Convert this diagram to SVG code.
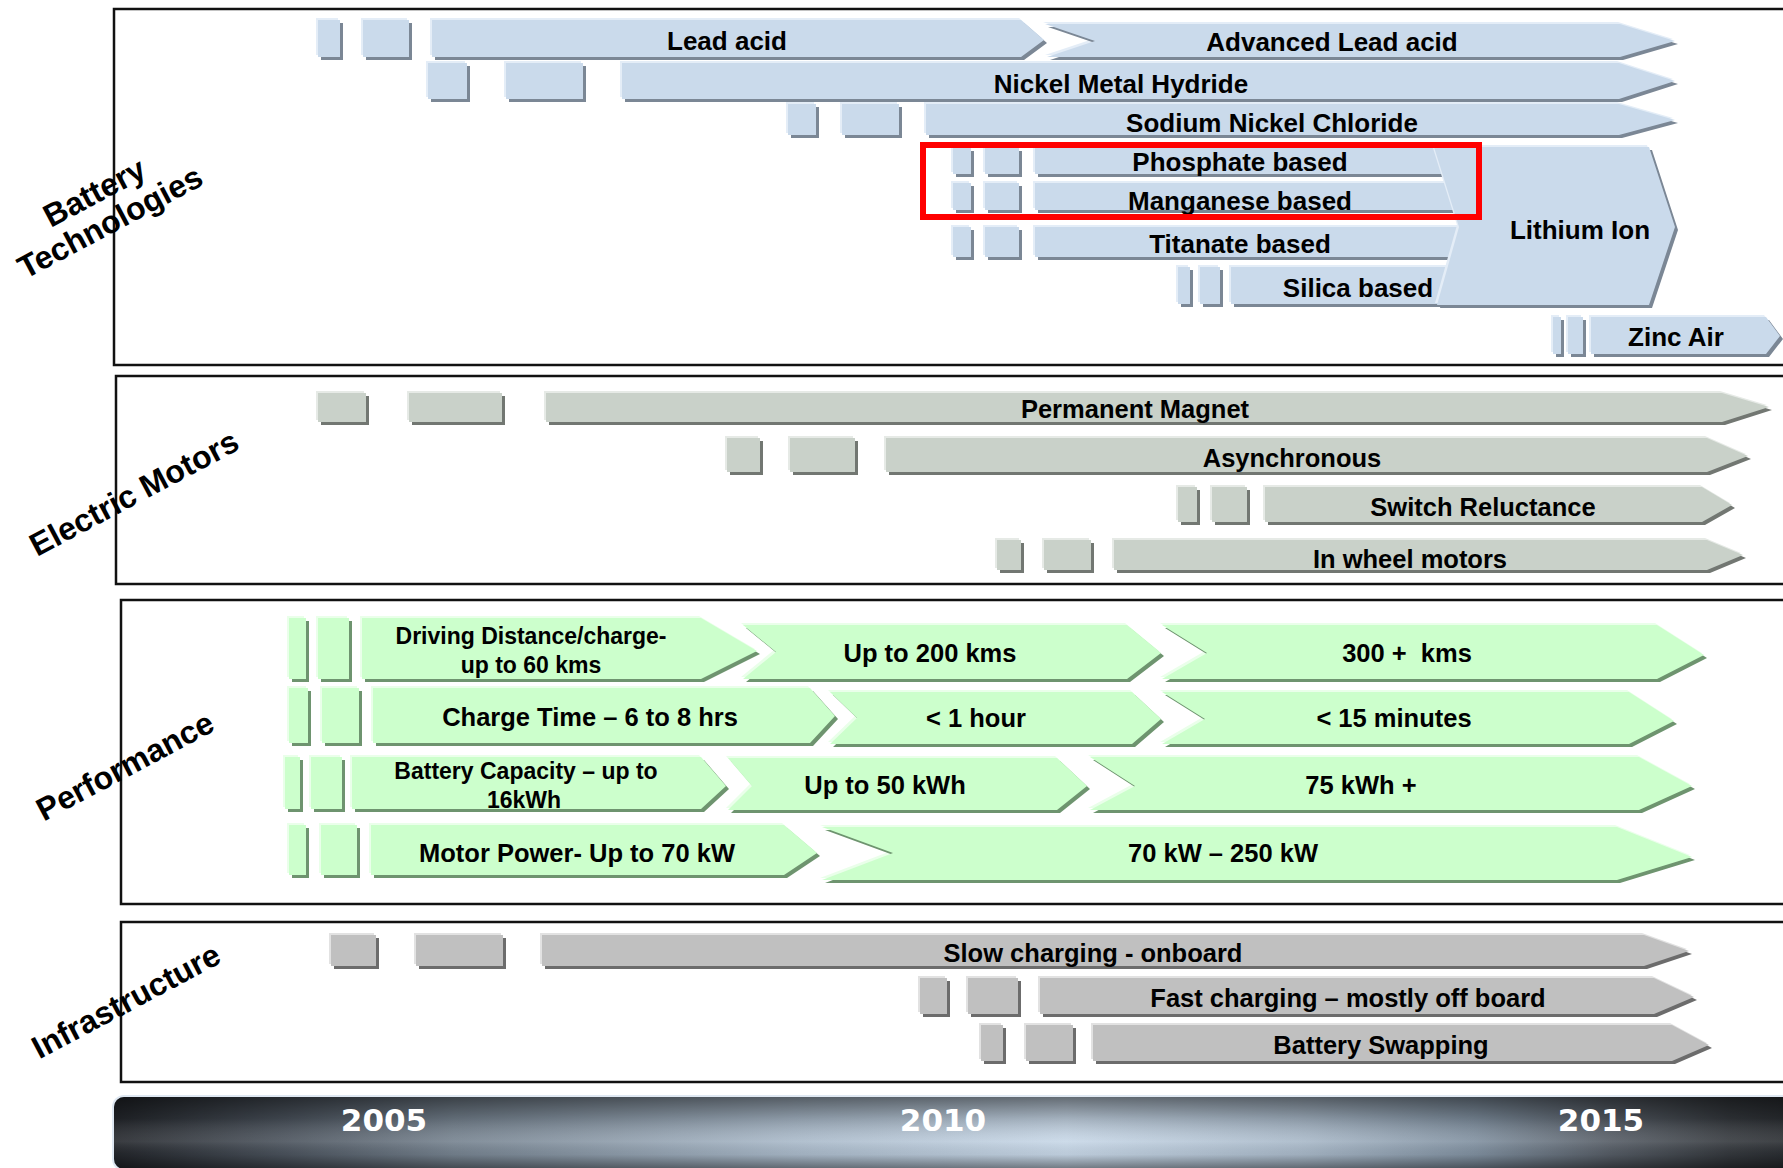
<svg xmlns="http://www.w3.org/2000/svg" width="1783" height="1168" viewBox="0 0 1783 1168">
<style>
.frame{fill:none;stroke:#111;stroke-width:2.5}
.t{font-family:"Liberation Sans",Arial,sans-serif;font-weight:bold;fill:#000;text-anchor:middle}
.f26{font-size:26px}.f25{font-size:25.5px}.f23{font-size:23px}
.sec{font-family:"Liberation Sans",Arial,sans-serif;font-weight:bold;font-size:32px;fill:#000;text-anchor:middle}
.yr{font-family:"DejaVu Sans",Verdana,sans-serif;font-weight:bold;font-size:31px;fill:#fff;text-anchor:middle}
.bH{fill:#e4edf7}.bS{fill:#7b8795}.bM{fill:#cadaeb}
.mH{fill:#e6eae6}.mS{fill:#727772}.mM{fill:#c9d1c9}
.pH{fill:#eaffea}.pS{fill:#6e946f}.pM{fill:#ccffcc}
.iH{fill:#e2e2e2}.iS{fill:#6c6c6c}.iM{fill:#c0c0c0}
</style>
<defs>
<linearGradient id="hg" x1="114" y1="0" x2="1814" y2="0" gradientUnits="userSpaceOnUse">
<stop offset="0" stop-color="#23262b"/><stop offset="0.1" stop-color="#4a525c"/><stop offset="0.2" stop-color="#75828f"/>
<stop offset="0.4" stop-color="#a9b9c9"/><stop offset="0.56" stop-color="#c7d7e7"/><stop offset="0.7" stop-color="#a8b8c8"/>
<stop offset="0.8" stop-color="#8090a0"/><stop offset="0.88" stop-color="#555c65"/><stop offset="0.95" stop-color="#34383d"/><stop offset="1" stop-color="#25282c"/>
</linearGradient>
<linearGradient id="vg" x1="0" y1="0" x2="0" y2="1">
<stop offset="0" stop-color="#000" stop-opacity="0.5"/><stop offset="0.3" stop-color="#000" stop-opacity="0.18"/>
<stop offset="0.62" stop-color="#fff" stop-opacity="0.1"/><stop offset="0.8" stop-color="#000" stop-opacity="0.06"/><stop offset="1" stop-color="#000" stop-opacity="0.45"/>
</linearGradient>
<path id="p-lead" d="M318 20h22v37h-22z M363 20h46v37h-46z M432 20H1021L1044 40L1021 57H432z"/>
<path id="p-adv" d="M1045 24H1620L1675 41L1620 57H1047L1095 41z"/>
<path id="p-nmh" d="M428 63h39v36h-39z M506 63h77v36h-77z M622 63H1619L1675 81L1619 99H622z"/>
<path id="p-sod" d="M788 104h28v31h-28z M842 104h57v31h-57z M926 104H1619L1675 120L1619 135H926z"/>
<path id="p-phos" d="M953 148h18v26h-18z M985 148h34v26h-34z M1035 148H1470V174H1035z"/>
<path id="p-mang" d="M953 183h18v27h-18z M985 183h34v27h-34z M1035 183H1470V210H1035z"/>
<path id="p-tit" d="M953 227h18v30h-18z M985 227h34v30h-34z M1035 227H1470V257H1035z"/>
<path id="p-sil" d="M1178 267h12v37h-12z M1200 267h20v37h-20z M1231 267H1460V304H1231z"/>
<path id="p-li" d="M1434 147H1649L1675 227L1649 305H1437L1459 227z"/>
<path id="p-zinc" d="M1553 317h8v37h-8z M1568 317h15v37h-15z M1591 317H1766L1780 336L1766 354H1591z"/>
<path id="p-pm" d="M318 393h48v29h-48z M409 393h93v29h-93z M546 393H1722L1769 407L1722 422H546z"/>
<path id="p-async" d="M727 438h33v34h-33z M790 438h65v34h-65z M886 438H1707L1748 456L1707 472H886z"/>
<path id="p-sw" d="M1178 487h19v35h-19z M1212 487h35v35h-35z M1265 487H1702L1732 505L1702 522H1265z"/>
<path id="p-wheel" d="M997 540h24v30h-24z M1044 540h47v30h-47z M1114 540H1707L1743 555L1707 570H1114z"/>
<path id="p-drive" d="M289 618h17v61h-17z M318 618h31v61h-31z M362 618H701L757 651L701 679H362z"/>
<path id="p-200" d="M743 625H1127L1161 653L1127 679H743L776 652z"/>
<path id="p-300" d="M1162 625H1657L1704 655L1657 679H1162L1207 653z"/>
<path id="p-charge" d="M289 688h19v55h-19z M322 688h37v55h-37z M373 688H810L835 716L810 743H373z"/>
<path id="p-1h" d="M830 692H1132L1161 719L1132 744H830L857 718z"/>
<path id="p-15m" d="M1162 692H1629L1674 721L1629 744H1162L1205 719z"/>
<path id="p-cap" d="M285 757h15v52h-15z M311 757h31v52h-31z M352 757H701L726 786L701 809H352z"/>
<path id="p-50" d="M728 758H1057L1087 786L1057 810H728L752 786z"/>
<path id="p-75" d="M1090 757H1639L1692 786L1639 810H1090L1135 786z"/>
<path id="p-motor" d="M289 825h17v50h-17z M321 825h36v50h-36z M371 825H784L817 853L784 875H371z"/>
<path id="p-250" d="M822 827H1617L1692 857L1617 880H822L893 853z"/>
<path id="p-slow" d="M331 935h45v31h-45z M416 935h87v31h-87z M542 935H1644L1689 951L1644 966H542z"/>
<path id="p-fast" d="M920 978h27v36h-27z M968 978h50v36h-50z M1040 978H1654L1694 997L1654 1014H1040z"/>
<path id="p-swap" d="M981 1025h22v36h-22z M1026 1025h47v36h-47z M1093 1025H1672L1709 1045L1672 1061H1093z"/>
</defs>
<rect width="1783" height="1168" fill="#fff"/>

<g id="frames">
<rect class="frame" x="114" y="9" width="1700" height="356"/>
<rect class="frame" x="116" y="376" width="1700" height="208"/>
<rect class="frame" x="121" y="600" width="1700" height="304"/>
<rect class="frame" x="121" y="922" width="1700" height="160"/>
</g>

<g id="section-labels">
<g id="label-battery" transform="translate(102,207) rotate(-28)"><text class="sec" x="0" y="-5.5">Battery</text><text class="sec" x="0" y="28">Technologies</text></g>
<g id="label-motors" transform="translate(134,493) rotate(-28)"><text class="sec" x="0" y="11">Electric Motors</text></g>
<g id="label-performance" transform="translate(125,766) rotate(-28)"><text class="sec" x="0" y="11">Performance</text></g>
<g id="label-infrastructure" transform="translate(126,1001) rotate(-28)"><text class="sec" x="0" y="11">Infrastructure</text></g>
</g>

<g id="battery">
<g id="lead-acid"><use href="#p-lead" class="bH" x="-2" y="-2"/><use href="#p-lead" class="bS" x="3" y="3"/><use href="#p-lead" class="bM"/><text class="t f26" x="727" y="50">Lead acid</text></g>
<g id="advanced-lead-acid"><use href="#p-adv" class="bH" x="-2" y="-2"/><use href="#p-adv" class="bS" x="3" y="3"/><use href="#p-adv" class="bM"/><text class="t f26" x="1332" y="51">Advanced Lead acid</text></g>
<g id="nickel-metal-hydride"><use href="#p-nmh" class="bH" x="-2" y="-2"/><use href="#p-nmh" class="bS" x="3" y="3"/><use href="#p-nmh" class="bM"/><text class="t f26" x="1121" y="93">Nickel Metal Hydride</text></g>
<g id="sodium-nickel-chloride"><use href="#p-sod" class="bH" x="-2" y="-2"/><use href="#p-sod" class="bS" x="3" y="3"/><use href="#p-sod" class="bM"/><text class="t f26" x="1272" y="132">Sodium Nickel Chloride</text></g>
<g id="phosphate-based"><use href="#p-phos" class="bH" x="-2" y="-2"/><use href="#p-phos" class="bS" x="3" y="3"/><use href="#p-phos" class="bM"/><text class="t f26" x="1240" y="171">Phosphate based</text></g>
<g id="manganese-based"><use href="#p-mang" class="bH" x="-2" y="-2"/><use href="#p-mang" class="bS" x="3" y="3"/><use href="#p-mang" class="bM"/><text class="t f26" x="1240" y="210">Manganese based</text></g>
<g id="titanate-based"><use href="#p-tit" class="bH" x="-2" y="-2"/><use href="#p-tit" class="bS" x="3" y="3"/><use href="#p-tit" class="bM"/><text class="t f26" x="1240" y="253">Titanate based</text></g>
<g id="silica-based"><use href="#p-sil" class="bH" x="-2" y="-2"/><use href="#p-sil" class="bS" x="3" y="3"/><use href="#p-sil" class="bM"/><text class="t f26" x="1358" y="297">Silica based</text></g>
<g id="lithium-ion"><use href="#p-li" class="bH" x="-2" y="-2"/><use href="#p-li" class="bS" x="3" y="3"/><use href="#p-li" class="bM"/><text class="t f26" x="1580" y="239">Lithium Ion</text></g>
<g id="zinc-air"><use href="#p-zinc" class="bH" x="-2" y="-2"/><use href="#p-zinc" class="bS" x="3" y="3"/><use href="#p-zinc" class="bM"/><text class="t f26" x="1676" y="346">Zinc Air</text></g>
<rect id="highlight" x="923" y="145" width="556" height="72" fill="none" stroke="#ff0000" stroke-width="6"/>
</g>

<g id="motors">
<g id="permanent-magnet"><use href="#p-pm" class="mH" x="-2" y="-2"/><use href="#p-pm" class="mS" x="3" y="3"/><use href="#p-pm" class="mM"/><text class="t f25" x="1135" y="418">Permanent Magnet</text></g>
<g id="asynchronous"><use href="#p-async" class="mH" x="-2" y="-2"/><use href="#p-async" class="mS" x="3" y="3"/><use href="#p-async" class="mM"/><text class="t f25" x="1292" y="467">Asynchronous</text></g>
<g id="switch-reluctance"><use href="#p-sw" class="mH" x="-2" y="-2"/><use href="#p-sw" class="mS" x="3" y="3"/><use href="#p-sw" class="mM"/><text class="t f25" x="1483" y="516">Switch Reluctance</text></g>
<g id="in-wheel-motors"><use href="#p-wheel" class="mH" x="-2" y="-2"/><use href="#p-wheel" class="mS" x="3" y="3"/><use href="#p-wheel" class="mM"/><text class="t f25" x="1410" y="568">In wheel motors</text></g>
</g>

<g id="performance">
<g id="driving-distance"><use href="#p-drive" class="pH" x="-2" y="-2"/><use href="#p-drive" class="pS" x="3" y="3"/><use href="#p-drive" class="pM"/><text class="t f23" x="531" y="644">Driving Distance/charge-</text><text class="t f23" x="531" y="673">up to 60 kms</text></g>
<g id="up-to-200"><use href="#p-200" class="pH" x="-2" y="-2"/><use href="#p-200" class="pS" x="3" y="3"/><use href="#p-200" class="pM"/><text class="t f25" x="930" y="662">Up to 200 kms</text></g>
<g id="300-kms"><use href="#p-300" class="pH" x="-2" y="-2"/><use href="#p-300" class="pS" x="3" y="3"/><use href="#p-300" class="pM"/><text class="t f25" x="1407" y="662" style="white-space:pre">300 +  kms</text></g>
<g id="charge-time"><use href="#p-charge" class="pH" x="-2" y="-2"/><use href="#p-charge" class="pS" x="3" y="3"/><use href="#p-charge" class="pM"/><text class="t f25" x="590" y="726">Charge Time – 6 to 8 hrs</text></g>
<g id="one-hour"><use href="#p-1h" class="pH" x="-2" y="-2"/><use href="#p-1h" class="pS" x="3" y="3"/><use href="#p-1h" class="pM"/><text class="t f25" x="976" y="727">&lt; 1 hour</text></g>
<g id="fifteen-minutes"><use href="#p-15m" class="pH" x="-2" y="-2"/><use href="#p-15m" class="pS" x="3" y="3"/><use href="#p-15m" class="pM"/><text class="t f25" x="1394" y="727">&lt; 15 minutes</text></g>
<g id="battery-capacity"><use href="#p-cap" class="pH" x="-2" y="-2"/><use href="#p-cap" class="pS" x="3" y="3"/><use href="#p-cap" class="pM"/><text class="t f23" x="526" y="779">Battery Capacity – up to</text><text class="t f23" x="524" y="808">16kWh</text></g>
<g id="up-to-50"><use href="#p-50" class="pH" x="-2" y="-2"/><use href="#p-50" class="pS" x="3" y="3"/><use href="#p-50" class="pM"/><text class="t f25" x="885" y="794">Up to 50 kWh</text></g>
<g id="75-kwh"><use href="#p-75" class="pH" x="-2" y="-2"/><use href="#p-75" class="pS" x="3" y="3"/><use href="#p-75" class="pM"/><text class="t f25" x="1361" y="794">75 kWh +</text></g>
<g id="motor-power"><use href="#p-motor" class="pH" x="-2" y="-2"/><use href="#p-motor" class="pS" x="3" y="3"/><use href="#p-motor" class="pM"/><text class="t f25" x="577" y="862">Motor Power- Up to 70 kW</text></g>
<g id="70-250-kw"><use href="#p-250" class="pH" x="-2" y="-2"/><use href="#p-250" class="pS" x="3" y="3"/><use href="#p-250" class="pM"/><text class="t f25" x="1223" y="862">70 kW – 250 kW</text></g>
</g>

<g id="infrastructure">
<g id="slow-charging"><use href="#p-slow" class="iH" x="-2" y="-2"/><use href="#p-slow" class="iS" x="3" y="3"/><use href="#p-slow" class="iM"/><text class="t f25" x="1093" y="962">Slow charging - onboard</text></g>
<g id="fast-charging"><use href="#p-fast" class="iH" x="-2" y="-2"/><use href="#p-fast" class="iS" x="3" y="3"/><use href="#p-fast" class="iM"/><text class="t f25" x="1348" y="1007">Fast charging – mostly off board</text></g>
<g id="battery-swapping"><use href="#p-swap" class="iH" x="-2" y="-2"/><use href="#p-swap" class="iS" x="3" y="3"/><use href="#p-swap" class="iM"/><text class="t f25" x="1381" y="1054">Battery Swapping</text></g>
</g>

<g id="connectors"></g>

<g id="timeline">
<rect x="112" y="1095" width="1704" height="76" rx="12" fill="#dfe8f2"/>
<rect x="114" y="1097" width="1700" height="72" rx="10" fill="url(#hg)"/>
<rect x="114" y="1097" width="1700" height="72" rx="10" fill="url(#vg)"/>
<text class="yr" x="384" y="1131">2005</text>
<text class="yr" x="943" y="1131">2010</text>
<text class="yr" x="1601" y="1131">2015</text>
</g>
</svg>
